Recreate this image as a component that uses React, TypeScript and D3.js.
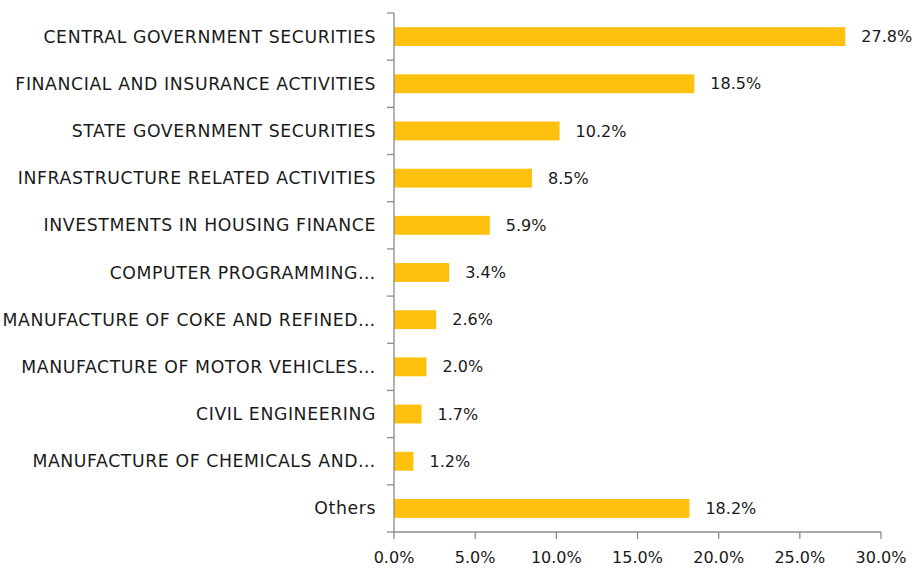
import React from "react";
import * as d3 from "d3";

const categories = [
  "CENTRAL GOVERNMENT SECURITIES",
  "FINANCIAL AND INSURANCE ACTIVITIES",
  "STATE GOVERNMENT SECURITIES",
  "INFRASTRUCTURE RELATED ACTIVITIES",
  "INVESTMENTS IN HOUSING FINANCE",
  "COMPUTER PROGRAMMING…",
  "MANUFACTURE OF COKE AND REFINED…",
  "MANUFACTURE OF MOTOR VEHICLES…",
  "CIVIL ENGINEERING",
  "MANUFACTURE OF CHEMICALS AND…",
  "Others",
];
const values = [27.8, 18.5, 10.2, 8.5, 5.9, 3.4, 2.6, 2.0, 1.7, 1.2, 18.2];
const xTicks = [0, 5, 10, 15, 20, 25, 30];

const W = 917;
const H = 572;
const left = 394;
const right = 881;
const top = 13;
const bottom = 532;
const font = "'DejaVu Sans', sans-serif";

export default function App() {
  const x = d3.scaleLinear().domain([0, 30]).range([left, right]);
  const y = d3.scaleBand<string>().domain(categories).range([top, bottom]).paddingInner(0.6).paddingOuter(0.3);
  const yEdges = d3.range(categories.length + 1).map((i) => top + (i * (bottom - top)) / categories.length);
  return (
    <svg width={W} height={H} style={{ position: "absolute", left: 0, top: 0, background: "#fff" }}>
      {categories.map((c, i) => (
        <g key={c}>
          <rect x={x(0)} y={y(c)!} width={x(values[i]) - x(0)} height={y.bandwidth()} fill="#FFC10E" />
          <text x={x(values[i]) + 16} y={y(c)! + y.bandwidth() / 2} dy="0.35em" fontFamily={font} fontSize={16} fill="#1a1a1a">
            {values[i].toFixed(1)}%
          </text>
          <text x={376} y={y(c)! + y.bandwidth() / 2} dy="0.35em" textAnchor="end" fontFamily={font} fontSize={17.3} letterSpacing={0.6} fill="#1a1a1a">
            {c}
          </text>
        </g>
      ))}
      <line x1={left} x2={left} y1={top} y2={bottom} stroke="#8c8c8c" strokeWidth={1.3} />
      {yEdges.map((e, i) => (
        <line key={i} x1={left - 7} x2={left} y1={e} y2={e} stroke="#8c8c8c" strokeWidth={1.3} />
      ))}
      <line x1={left} x2={right} y1={bottom} y2={bottom} stroke="#8c8c8c" strokeWidth={1.3} />
      {xTicks.map((t) => (
        <g key={t}>
          <line x1={x(t)} x2={x(t)} y1={bottom} y2={bottom + 7} stroke="#8c8c8c" strokeWidth={1.3} />
          <text x={x(t)} y={557} dy="0.35em" textAnchor="middle" fontFamily={font} fontSize={16} fill="#1a1a1a">
            {t.toFixed(1)}%
          </text>
        </g>
      ))}
    </svg>
  );
}
